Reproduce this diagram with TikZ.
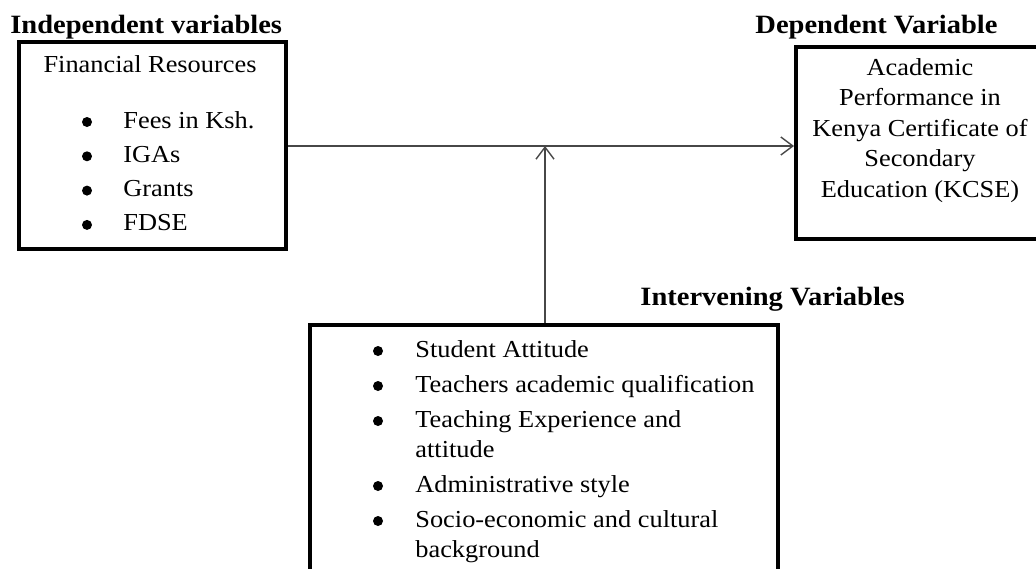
\documentclass[tikz,border=0pt]{standalone}
\usepackage{fontspec}
\setmainfont[FakeStretch=1.08]{Liberation Serif}
\usetikzlibrary{arrows.meta}

\tikzset{
  varbox/.style={draw=black, line width=2pt, anchor=north west, inner sep=0pt},
  heading/.style={font=\fontsize{13.2}{15}\selectfont\bfseries, anchor=base west, inner sep=0pt},
  entry/.style={anchor=base west, inner sep=0pt},
  link/.style={draw=black!72, line width=0.7pt},
  tip/.style={-{Straight Barb[length=6pt,width=9pt,line width=0.7pt]}}
}

\begin{document}
\begin{tikzpicture}[x=0.5pt, y=-0.5pt, font=\fontsize{12.2}{14}\selectfont]
\path[use as bounding box, clip] (0,0) rectangle (1036,568);

% boxes
\node[varbox, minimum width=133.5pt, minimum height=103.5pt] (indep) at (17,40) {};
\node[varbox, minimum width=127pt, minimum height=96pt] (dep) at (794,45) {};
\node[varbox, minimum width=234pt, minimum height=140pt] (interv) at (308,323) {};

% headings
\node[heading] (hindep) at (10,33) {Independent variables};
\node[heading] (hdep) at (755,33) {Dependent Variable};
\node[heading] (hinterv) at (640,305) {Intervening Variables};

% independent box
\node[anchor=base] (fin) at (150,72) {Financial Resources};
\foreach \t [count=\i] in {Fees in Ksh., IGAs, Grants, FDSE}{
  \node[entry] (fin\i) at (123,{128+34.3*(\i-1)}) {\t};
  \fill (87,{122+34.3*(\i-1)}) circle (2.5pt);
}

% dependent box
\foreach \t [count=\i] in {Academic, Performance in, Kenya Certificate of, Secondary, Education (KCSE)}
  \node[anchor=base, inner sep=0pt] (perf\i) at (920,{75+30.5*(\i-1)}) {\t};

% intervening box
\node[entry] (att) at (415,357) {Student Attitude};
\node[entry] (qual) at (415,392) {Teachers academic qualification};
\node[entry] (exp) at (415,427) {Teaching Experience and};
\node[entry] (exp2) at (415,457) {attitude};
\node[entry] (adm) at (415,492) {Administrative style};
\node[entry] (soc) at (415,527) {Socio-economic and cultural};
\node[entry] (soc2) at (415,557) {background};
\foreach \y in {357,392,427,492,527}
  \fill (378,\y-6) circle (2.5pt);

% connectors
\coordinate (mid) at (545,146);
\draw[link, tip] (indep.east |- mid) -- (dep.west |- mid);
\draw[link, tip] (interv.north -| mid) -- (mid);
\end{tikzpicture}
\end{document}
